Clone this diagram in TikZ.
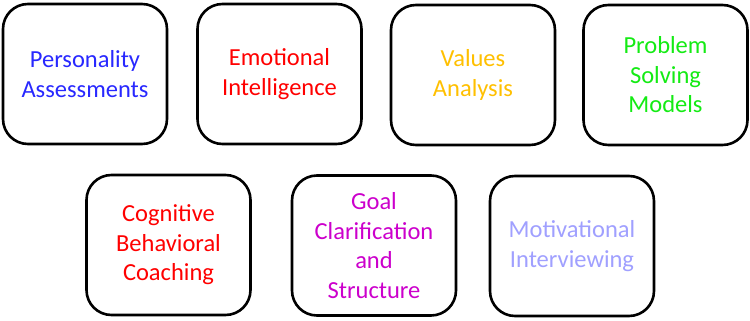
\documentclass[tikz,border=0pt]{standalone}
\usepackage{fontspec}
\setmainfont{Carlito}
\definecolor{cblue}{RGB}{40,40,255}
\definecolor{cred}{RGB}{255,0,0}
\definecolor{corange}{RGB}{255,192,0}
\definecolor{cgreen}{RGB}{20,235,20}
\definecolor{cpurple}{RGB}{204,0,204}
\definecolor{clight}{RGB}{160,160,255}
\begin{document}
\begin{tikzpicture}[x=1pt,y=-1pt,
  card/.style={draw=black, line width=2.6pt, fill=white, rounded corners=25pt,
    minimum width=164pt, minimum height=140pt, align=center,
    font=\fontsize{24.5}{29.5}\selectfont, inner sep=2pt}]
\useasboundingbox (0,0) rectangle (750,321);
\node[card, text=cblue]   (b1) at (85,74)    {Personality\\Assessments};
\node[card, text=cred]    (b2) at (279.5,74) {Emotional\\Intelligence};
\node[card, text=corange] (b3) at (473,75)   {Values\\Analysis};
\node[card, text=cgreen]  (b4) at (665.5,75) {Problem\\Solving\\Models};
\node[card, text=cred]    (b5) at (168.5,245) {Cognitive\\Behavioral\\Coaching};
\node[card, text=cpurple] (b6) at (374,245.5) {Goal\\Clarification\\and\\Structure};
\node[card, text=clight]  (b7) at (572,246)  {Motivational\\Interviewing};
\end{tikzpicture}
\end{document}
